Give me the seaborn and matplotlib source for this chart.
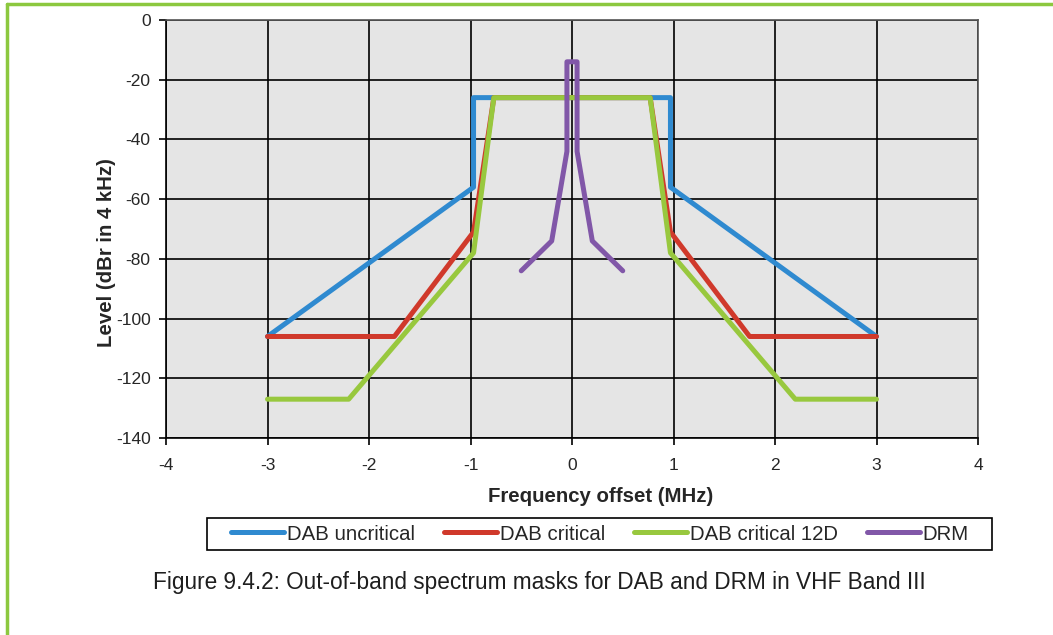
import matplotlib
matplotlib.use("Agg")
import matplotlib.pyplot as plt
import pandas as pd
import seaborn as sns

# spectrum mask breakpoints
series_names = ["DAB uncritical", "DAB critical", "DAB critical 12D", "DRM"]

unc_f = [-3, -0.97, -0.97, 0.97, 0.97, 3]
unc_l = [-106, -56, -26, -26, -56, -106]

crit_f = [-3, -1.75, -0.97, -0.77, 0.77, 0.97, 1.75, 3]
crit_l = [-106, -106, -71, -26, -26, -71, -106, -106]

d12_f = [-3, -2.2, -0.97, -0.77, 0.77, 0.97, 2.2, 3]
d12_l = [-127, -127, -78, -26, -26, -78, -127, -127]

drm_f = [-0.5, -0.2, -0.05, -0.05, 0.05, 0.05, 0.2, 0.5]
drm_l = [-84, -74, -44, -14, -14, -44, -74, -84]

x_ticks = [-4, -3, -2, -1, 0, 1, 2, 3, 4]
y_ticks = [0, -20, -40, -60, -80, -100, -120, -140]

colors = {"DAB uncritical": "#2F8AD0", "DAB critical": "#D0392B",
          "DAB critical 12D": "#98C83E", "DRM": "#8157A8"}

frames = []
for name, f, l in zip(series_names, [unc_f, crit_f, d12_f, drm_f],
                      [unc_l, crit_l, d12_l, drm_l]):
    frames.append(pd.DataFrame({"freq": f, "level": l, "mask": name}))
df = pd.concat(frames, ignore_index=True)

sns.set_style("white")
plt.rcParams["font.family"] = ["Liberation Sans", "DejaVu Sans"]

fig = plt.figure(figsize=(10.53, 6.35), dpi=100)
ax = fig.add_axes([166 / 1053, 1 - 438 / 635, 812 / 1053, 418 / 635])
ax.set_facecolor("#E5E5E5")

for name in series_names:
    sub = df[df["mask"] == name]
    sns.lineplot(data=sub, x="freq", y="level", sort=False, estimator=None,
                 color=colors[name], lw=3.6, ax=ax, label=name)

ax.set_xlim(-4, 4)
ax.set_ylim(-140, 0)
ax.set_xticks(x_ticks)
ax.set_yticks(y_ticks)
ax.set_xticklabels([str(t) for t in x_ticks])
ax.set_yticklabels([str(t) for t in y_ticks])
ax.grid(True, color="black", lw=1.2)
ax.set_axisbelow(True)
for s in ax.spines.values():
    s.set_color("#555555")
    s.set_linewidth(1.2)
ax.spines["left"].set_color("black")
ax.spines["bottom"].set_color("black")
ax.tick_params(axis="both", direction="out", length=5, width=1.2,
               labelsize=12.5, color="black", left=True, bottom=True)
ax.tick_params(axis="x", pad=9.5)
ax.tick_params(axis="y", pad=6)
ax.set_xlabel("")
ax.set_ylabel("")
ax.legend_.remove()

fig.text(601 / 1053, 1 - 497 / 635, "Frequency offset (MHz)", ha="center",
         va="center", fontsize=14.7, fontweight="bold")
fig.text(106 / 1053, 1 - 253 / 635, "Level (dBr in 4 kHz)", ha="center",
         va="center", rotation=90, fontsize=14.7, fontweight="bold")

handles, labels = ax.get_legend_handles_labels()
leg = fig.legend(handles, labels, loc="center", ncol=4,
                 bbox_to_anchor=(600 / 1053, 1 - 534 / 635), fontsize=14.7,
                 frameon=False, handlelength=2.6, handletextpad=0.15,
                 columnspacing=1.4, borderpad=0.3)
# legend box drawn separately so its size matches the reference
fig.add_artist(plt.Rectangle((207 / 1053, 1 - 550 / 635), 785 / 1053, 32 / 635,
                             fill=False, edgecolor="black", lw=1.2,
                             transform=fig.transFigure))

fig.text(539 / 1053, 1 - 583 / 635,
         "Figure 9.4.2: Out-of-band spectrum masks for DAB and DRM in VHF Band III",
         ha="center", va="center", fontsize=16.3, color="#1E1E1E",
         family=["Liberation Sans Narrow", "Liberation Sans", "DejaVu Sans"])

# green page frame (top and left edges)
fig.add_artist(plt.Line2D([7 / 1053, 1], [1 - 4 / 635, 1 - 4 / 635],
                          color="#8CC83F", lw=2.5, transform=fig.transFigure))
fig.add_artist(plt.Line2D([7 / 1053, 7 / 1053], [0, 1 - 4 / 635],
                          color="#8CC83F", lw=2.5, transform=fig.transFigure))

fig.savefig("out.png", dpi=100)
